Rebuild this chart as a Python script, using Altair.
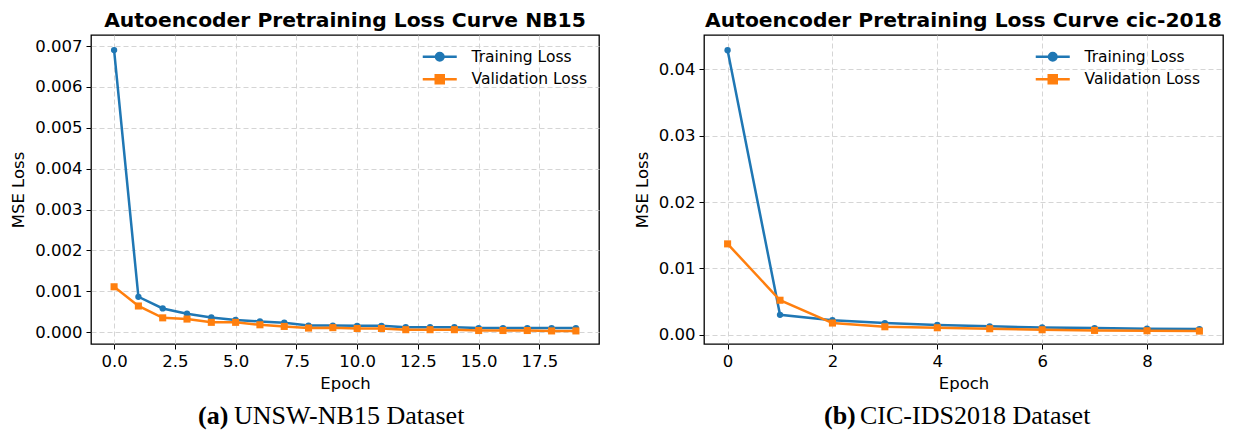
import altair as alt
import pandas as pd

# ---------------- data ----------------
nb15_epochs = list(range(20))
nb15_train = [0.00690, 0.000865, 0.00058, 0.00045, 0.00036, 0.00030, 0.00026, 0.00023,
              0.00016, 0.00016, 0.000155, 0.000155, 0.00012, 0.00012, 0.00012, 0.00010,
              0.00010, 0.00010, 0.00010, 0.00010]
nb15_val = [0.00111, 0.00064, 0.00035, 0.00032, 0.00024, 0.00024, 0.00018, 0.00014,
            0.00010, 0.00011, 0.00009, 0.00009, 0.00006, 0.00006, 0.00006, 0.00004,
            0.00004, 0.00004, 0.00003, 0.00003]

cic_epochs = list(range(10))
cic_train = [0.0429, 0.0030, 0.0022, 0.00176, 0.00146, 0.00126, 0.0011, 0.0010, 0.0009, 0.00085]
cic_val = [0.0137, 0.0052, 0.00176, 0.0012, 0.00105, 0.0009, 0.00075, 0.00065, 0.0006, 0.00055]

series_names = ["Training Loss", "Validation Loss"]
series_colors = ["#1f77b4", "#ff7f0e"]

nb15_xticks = [0.0, 2.5, 5.0, 7.5, 10.0, 12.5, 15.0, 17.5]
nb15_yticks = [0.000, 0.001, 0.002, 0.003, 0.004, 0.005, 0.006, 0.007]
cic_xticks = [0, 2, 4, 6, 8]
cic_yticks = [0.00, 0.01, 0.02, 0.03, 0.04]

titles = ["Autoencoder Pretraining Loss Curve NB15", "Autoencoder Pretraining Loss Curve cic-2018"]
caption_tags = ["(a)", "(b)"]
caption_texts = ["UNSW-NB15 Dataset", "CIC-IDS2018 Dataset"]

FONT = "DejaVu Sans"
SERIF = "Liberation Serif"

LEGEND_PATHS = [
    "M-3.4,0L3.4,0M0.75,0A0.75,0.75,0,1,1,-0.75,0A0.75,0.75,0,1,1,0.75,0Z",
    "M-3.4,0L3.4,0M-0.8,-0.8L0.8,-0.8L0.8,0.8L-0.8,0.8Z",
]


def panel(epochs, train, val, xdom, ydom, xticks, yticks, xfmt, yfmt, title,
          tag, text, width, height, tag_x, text_x):
    df = pd.DataFrame({
        "epoch": epochs * 2,
        "loss": train + val,
        "series": [series_names[0]] * len(epochs) + [series_names[1]] * len(epochs),
    })
    base = alt.Chart(df)
    x = alt.X("epoch:Q", scale=alt.Scale(domain=xdom, nice=False, zero=False),
              axis=alt.Axis(values=xticks, format=xfmt, title="Epoch"))
    y = alt.Y("loss:Q", scale=alt.Scale(domain=ydom, nice=False, zero=False),
              axis=alt.Axis(values=yticks, format=yfmt, title="MSE Loss"))

    layers = []
    for name, color, shape, size in [(series_names[0], series_colors[0], "circle", 40),
                                     (series_names[1], series_colors[1], "square", 50)]:
        sub = base.transform_filter(alt.datum.series == name)
        layers.append(sub.mark_line(color=color, strokeWidth=2.5).encode(x=x, y=y))
        layers.append(sub.mark_point(shape=shape, filled=True, color=color, size=size,
                                     opacity=1).encode(x=x, y=y))

    legend = alt.Legend(
        title=None, orient="none", legendX=341, legendY=14,
        symbolSize=100, symbolStrokeWidth=2.5, labelOffset=24, rowPadding=3.5,
        labelFont=FONT, labelFontSize=15.5, labelColor="black", padding=0,
        symbolOpacity=1,
    )
    leg = base.transform_filter("false").mark_point(opacity=1, strokeWidth=2.5).encode(
        fill=alt.Fill("series:N", scale=alt.Scale(domain=series_names, range=series_colors),
                      legend=legend),
        stroke=alt.Stroke("series:N", scale=alt.Scale(domain=series_names, range=series_colors),
                          legend=legend),
        shape=alt.Shape("series:N", scale=alt.Scale(domain=series_names, range=LEGEND_PATHS),
                        legend=legend),
    )
    layers.append(leg)

    cap1 = alt.Chart(pd.DataFrame({"t": [tag]})).mark_text(
        font=SERIF, fontSize=26, fontWeight="bold", align="left", baseline="alphabetic",
        color="black").encode(text="t:N", x=alt.value(tag_x), y=alt.value(height + 80))
    cap2 = alt.Chart(pd.DataFrame({"t": [text]})).mark_text(
        font=SERIF, fontSize=26, align="left", baseline="alphabetic",
        color="black").encode(text="t:N", x=alt.value(text_x), y=alt.value(height + 80))
    layers += [cap1, cap2]

    return alt.layer(*layers).properties(
        width=width, height=height,
        title=alt.TitleParams(title, font=FONT, fontSize=20.3, fontWeight="bold",
                              color="black", anchor="middle", offset=4),
    )


left = panel(nb15_epochs, nb15_train, nb15_val, [-0.95, 19.95], [-0.00029, 0.00727],
             nb15_xticks, nb15_yticks, ".1f", ".3f", titles[0], caption_tags[0],
             caption_texts[0], 508, 309, 107, 143)
right = panel(cic_epochs, cic_train, cic_val, [-0.45, 9.45], [-0.0014, 0.0452],
              cic_xticks, cic_yticks, "d", ".2f", titles[1], caption_tags[1],
              caption_texts[1], 519, 309, 120, 156)

chart = alt.hconcat(left, right, spacing=33).resolve_scale(
    fill="independent", stroke="independent", shape="independent"
).resolve_legend(fill="independent", stroke="independent", shape="independent").configure(
    padding={"left": 2, "top": 2, "right": 0, "bottom": 0}
).configure_view(
    stroke="black", strokeWidth=1.3
).configure_axis(
    labelFont=FONT, labelFontSize=16.5, labelColor="black",
    titleFont=FONT, titleFontSize=16.5, titleColor="black", titleFontWeight="normal",
    tickColor="black", tickSize=5, tickWidth=1, labelPadding=4,
    domain=False, grid=True, gridColor="#d0d0d0", gridDash=[5, 3], gridWidth=0.9,
    titlePadding=8,
).configure_axisX(titlePadding=6)

chart.save("out.html", embed_options={"renderer": "svg", "actions": False})
